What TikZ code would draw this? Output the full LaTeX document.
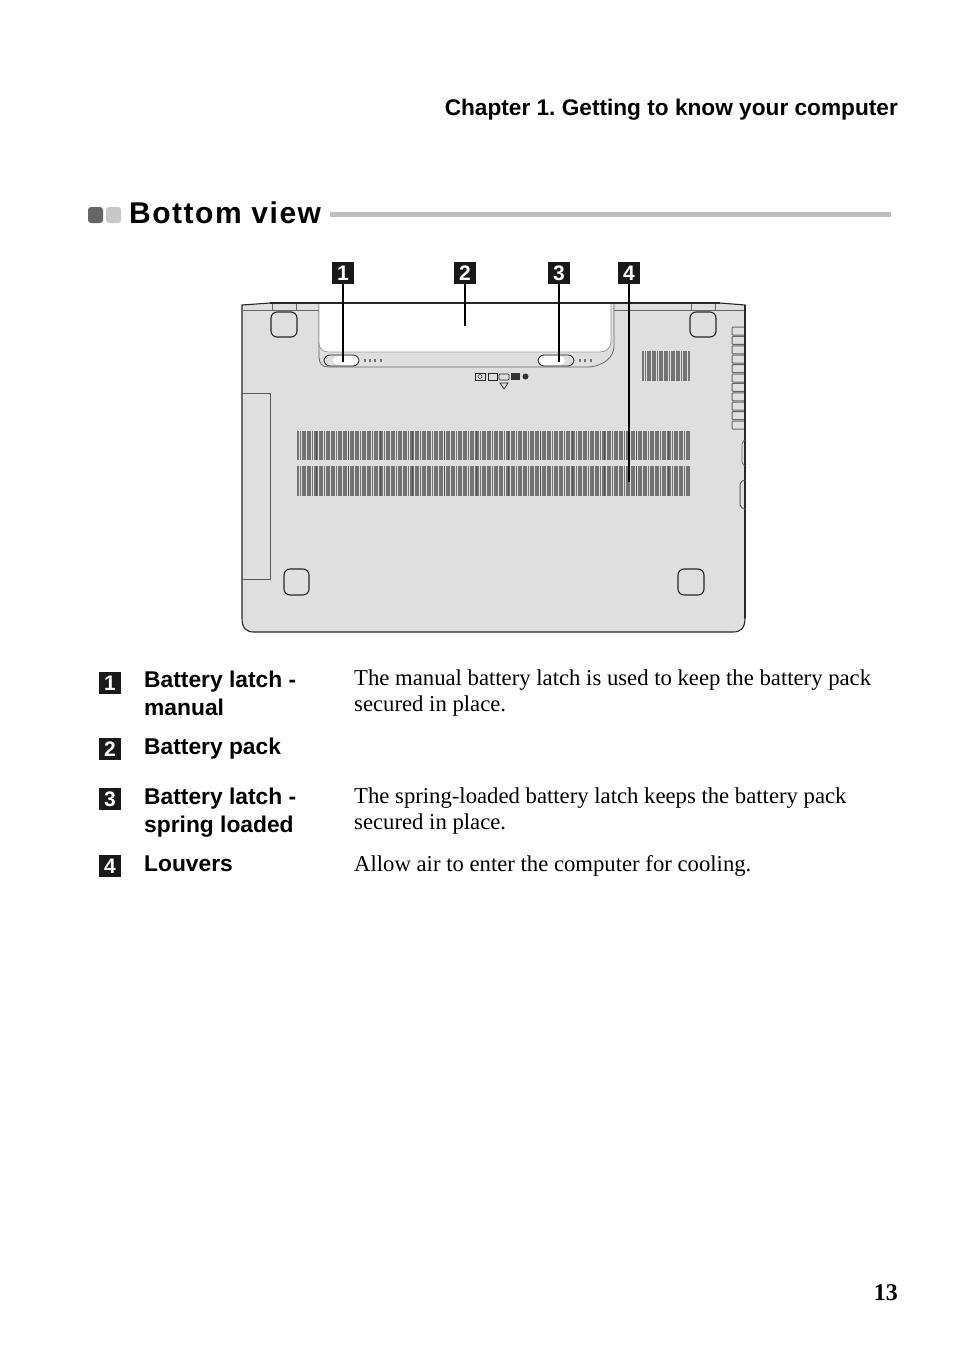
\documentclass[tikz,border=0pt]{standalone}
\usepackage{fontspec}
\setmainfont{Liberation Serif}
\setsansfont{Liberation Sans}
\newfontfamily\spacedfont[LetterSpace=5]{Liberation Sans}
\frenchspacing
\definecolor{bodygray}{gray}{0.875}
\definecolor{linegray}{gray}{0.15}
\definecolor{ventgray}{gray}{0.45}
\tikzset{
  badge/.style={fill=black!90,text=white,font=\sffamily\bfseries\fontsize{21}{21}\selectfont,
    minimum width=22pt,minimum height=22pt,inner sep=0pt},
  callout/.style={black,line width=1.6pt},
  part/.style={draw=linegray,line width=1.1pt},
  lightpart/.style={draw=black!60,line width=0.8pt},
  vent/.style={ventgray,line width=1.8pt},
  ventdark/.style={black!70,line width=1pt},
  itemhead/.style={anchor=north west,inner sep=0pt,align=left,
    font=\sffamily\bfseries\fontsize{22.8}{27.5}\selectfont},
  itemtext/.style={anchor=north west,inner sep=0pt,align=left,
    font=\fontsize{22.7}{25.6}\selectfont},
}
\begin{document}
\begin{tikzpicture}[x=1pt,y=-1pt]
\useasboundingbox[fill=white] (0,0) rectangle (954,1352);

    % page head
    \node[anchor=base east,inner sep=0pt,font=\sffamily\bfseries\fontsize{22.65}{23}\selectfont]
        (chapter) at (898,115) {Chapter 1. Getting to know your computer};
    \fill[black!60,rounded corners=3pt] (88,207) rectangle (103,223);
    \fill[black!22,rounded corners=3pt] (106,207) rectangle (121,223);
    \node[anchor=base west,inner sep=0pt,font=\spacedfont\bfseries\fontsize{30}{30}\selectfont]
        (title) at (129,223) {Bottom view};
    \fill[black!25] (330,212) rectangle (891,217);

    % laptop body
    \draw[part,fill=bodygray] (242,305) -- (270,303) -- (720,303) -- (745,305)
        -- (745,618) .. controls (745,628) and (741,632) .. (733,632)
        -- (254,632) .. controls (246,632) and (242,628) .. (242,618) -- cycle;
    \draw[lightpart] (242,310) -- (319,310);
    \draw[lightpart] (614,310) -- (745,310);
    \draw[lightpart] (272,303) -- (272,310);
    \draw[lightpart] (296,303) -- (296,310);
    \draw[lightpart] (691,303) -- (691,310);
    \draw[lightpart] (715,303) -- (715,310);

    % battery pack
    \draw[lightpart,fill=bodygray] (319,303) -- (319,357)
        .. controls (319,363) and (322,367) .. (328,367) -- (590,367)
        .. controls (604,365) and (613,358) .. (614,347) -- (614,303);
    \draw[black!40,line width=0.8pt,fill=white] (319,303) -- (319,343)
        .. controls (319,349) and (323,352) .. (329,352) -- (600,352)
        .. controls (606,352) and (611,348) .. (611,342) -- (611,303) -- cycle;
    \draw[part] (270,303) -- (720,303);

    % latches
    \draw[part,line width=0.8pt,rounded corners=6pt] (324,355) rectangle (359,366);
    \fill[white,rounded corners=5pt] (333,356) rectangle (358,365);
    \draw[part,line width=0.8pt,rounded corners=6pt] (538,355) rectangle (574,366);
    \fill[white,rounded corners=5pt] (539,356) rectangle (565,365);
    \foreach \x in {364,369,374,380} \fill[black!55] (\x,358.5) rectangle ++(2,3);
    \foreach \x in {579,584,590} \fill[black!55] (\x,358.5) rectangle ++(2,3);

    % marks under the battery
    \draw[part,line width=0.7pt] (475,373) rectangle (485,380);
    \draw[part,line width=0.5pt] (480,376.5) circle (2);
    \draw[part,line width=0.7pt] (488,373) rectangle (497,380);
    \draw[part,line width=0.7pt,rounded corners=1pt] (499,374) rectangle (509,380);
    \fill[black!80] (511,373) rectangle (520,380);
    \fill[black!80] (525.5,376.5) circle (3);
    \draw[part,line width=0.7pt] (500,383) -- (508,383) -- (504,389) -- cycle;

    % feet
    \draw[part,rounded corners=6pt] (271,312) rectangle (297,337);
    \draw[part,rounded corners=6pt] (690,312) rectangle (716,337);
    \draw[part,rounded corners=6pt] (284,569) rectangle (309,595);
    \draw[part,rounded corners=6pt] (678,569) rectangle (704,595);

    % left bay
    \draw[draw=black!65,line width=1pt] (242,393) -- (270,393) -- (270,579) -- (242,579);

    % louvers
    \foreach \x in {298,300.4,...,690} {
        \draw[vent] (\x,431) -- (\x,460);
        \draw[vent] (\x,466) -- (\x,496);
    }
    \foreach \x in {316,348,...,690} {
        \draw[ventdark] (\x,431) -- (\x,460);
        \draw[ventdark] (\x,466) -- (\x,496);
    }
    \foreach \x in {643,645.4,...,690}
        \draw[vent] (\x,351) -- (\x,381);

    % side slots
    \foreach \y in {327,336.4,...,425}
        \draw[lightpart,rounded corners=1pt,line width=1pt] (732,\y) rectangle (745,\y+8);
    \draw[part] (745,305) -- (745,618);

    % right edge ports
    \draw[lightpart,rounded corners=2pt] (745,440) -- (742,442) -- (742,464) -- (745,466);
    \draw[draw=black!65,line width=1pt,rounded corners=2pt] (745,480) -- (740,482) -- (740,507) -- (745,509);

    % callouts
    \node[badge] (bad1) at (343,273) {1};
    \node[badge] (bad2) at (465,273) {2};
    \node[badge] (bad3) at (559,273) {3};
    \node[badge] (bad4) at (629,273) {4};
    \coordinate (end1) at (343,362);
    \coordinate (end2) at (465,326);
    \coordinate (end3) at (559,362);
    \coordinate (end4) at (629,482);
    \draw[callout] (bad1) -- (end1);
    \draw[callout] (bad2) -- (end2);
    \draw[callout] (bad3) -- (end3);
    \draw[callout] (bad4) -- (end4);

    % legend
    \node[badge] (key1) at (110,683) {1};
    \node[badge] (key2) at (110,749) {2};
    \node[badge] (key3) at (110,799) {3};
    \node[badge] (key4) at (110,866) {4};

    \node[itemhead] (head1) at (144,671) {Battery latch -\\manual};
    \node[itemhead] (head2) at (144,738) {Battery pack};
    \node[itemhead] (head3) at (144,788) {Battery latch -\\spring loaded};
    \node[itemhead] (head4) at (144,856) {Louvers};

    \node[itemtext] (text1) at (354,670) {The manual battery latch is used to keep the battery pack\\secured in place.};
    \node[itemtext] (text3) at (354,788) {The spring-loaded battery latch keeps the battery pack\\secured in place.};
    \node[itemtext] (text4) at (354,855) {Allow air to enter the computer for cooling.};

    % page number
    \node[anchor=base east,inner sep=0pt,font=\bfseries\fontsize{24}{24}\selectfont]
        (pagenum) at (898,1300) {13};
\end{tikzpicture}
\end{document}
